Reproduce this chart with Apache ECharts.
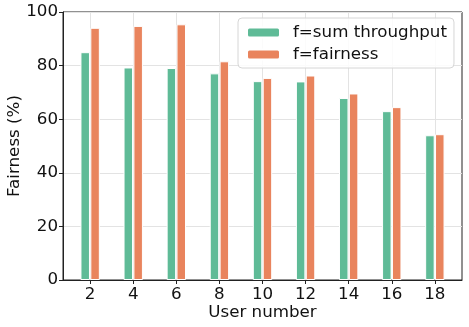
<!DOCTYPE html>
<html>
<head>
<meta charset="utf-8">
<script src="https://cdn.jsdelivr.net/npm/echarts@6/dist/echarts.min.js"></script>
<style>
  html, body { margin: 0; padding: 0; background: #fff; }
  #chart { width: 469px; height: 327px; }
</style>
</head>
<body>
<div id="chart"></div>
<script>
var userNumbers = [2, 4, 6, 8, 10, 12, 14, 16, 18]
var sumThroughput = [85.0, 79.3, 79.1, 77.1, 74.2, 74.1, 67.9, 63.0, 54.0]
var fairness = [94.1, 94.8, 95.4, 81.6, 75.4, 76.3, 69.6, 64.5, 54.4]
var yTicks = [0, 20, 40, 60, 80, 100]

var font = 'DejaVu Sans'
var fs = 16.7
var pairs = function(vals) {
  return userNumbers.map(function(u, i) { return [u, vals[i]] })
}

var chart = echarts.init(document.getElementById('chart'))
chart.setOption({
  animation: false,
  textStyle: { fontFamily: font },
  grid: {
    left: 63, right: 7, top: 12, bottom: 47,
    show: true, borderColor: '#222', borderWidth: 1,
    outerBoundsMode: 'none'
  },
  legend: {
    orient: 'vertical',
    left: 238, top: 18,
    padding: [6, 7, 5, 8],
    itemGap: 5,
    itemWidth: 33, itemHeight: 10,
    backgroundColor: 'rgba(255,255,255,0.85)',
    borderColor: '#d6d6d6', borderWidth: 1, borderRadius: 4,
    textStyle: { fontFamily: font, fontSize: fs, color: '#111', padding: [0, 0, 0, 8] },
    data: ['f=sum throughput', 'f=fairness']
  },
  xAxis: {
    type: 'value',
    min: 0.74, max: 19.26,
    name: 'User number',
    nameLocation: 'middle',
    nameGap: 24,
    nameMoveOverlap: false,
    nameTextStyle: { fontFamily: font, fontSize: fs, color: '#111' },
    axisLine: { show: true, lineStyle: { color: '#222' } },
    axisTick: { show: true, length: 4, customValues: userNumbers, lineStyle: { color: '#222' } },
    axisLabel: { customValues: userNumbers, fontFamily: font, fontSize: fs, color: '#111', margin: 6 },
    splitLine: { show: true, lineStyle: { color: '#e3e3e3' } }
  },
  yAxis: {
    type: 'value',
    min: 0, max: 100, interval: 20,
    name: 'Fairness (%)',
    nameLocation: 'middle',
    nameRotate: 90,
    nameGap: 40,
    nameMoveOverlap: false,
    nameTextStyle: { fontFamily: font, fontSize: fs, color: '#111' },
    axisLine: { show: true, lineStyle: { color: '#222' } },
    axisTick: { show: true, length: 4, lineStyle: { color: '#222' } },
    axisLabel: {
      fontFamily: font, fontSize: fs, color: '#111', margin: 5,
      formatter: function(v) { return yTicks.indexOf(v) >= 0 ? String(v) : '' }
    },
    splitLine: { show: true, lineStyle: { color: '#e3e3e3' } }
  },
  series: [
    {
      name: 'f=sum throughput',
      type: 'bar',
      barWidth: 9.5,
      barGap: '4%',
      itemStyle: { color: '#5fbb97', borderColor: '#fff', borderWidth: 1 },
      data: pairs(sumThroughput)
    },
    {
      name: 'f=fairness',
      type: 'bar',
      barWidth: 9.5,
      barGap: '4%',
      itemStyle: { color: '#e9845d', borderColor: '#fff', borderWidth: 1 },
      data: pairs(fairness)
    }
  ]
})
</script>
</body>
</html>
